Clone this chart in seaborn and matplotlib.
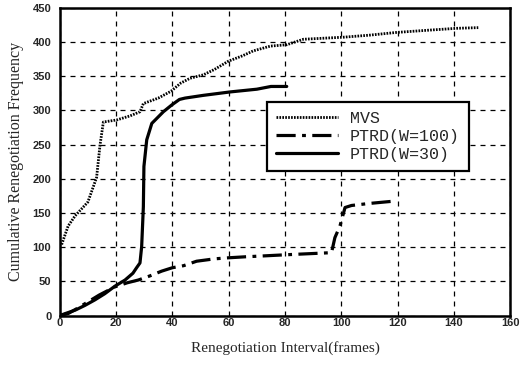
import matplotlib
matplotlib.use("Agg")
import matplotlib.pyplot as plt
import seaborn as sns
import pandas as pd

# ---- data ----
mvs_x = [0.7, 3, 5.5, 10, 13.1, 14.3, 15.5, 20.2, 25, 28.5, 29.7, 35, 39.5, 43, 46.3, 51, 55,
         59.9, 65, 68.7, 74.8, 80.6, 86.5, 95.9, 100.7, 110, 119.6, 130, 140.9, 148.6]
mvs_y = [104, 131, 146, 166, 202, 249, 283, 286, 292, 298, 310, 318, 328, 340, 347, 352, 360,
         372, 380, 387, 394, 396, 404, 406, 407, 410, 414, 417, 420, 421]

w100_x = [0, 3, 6, 10, 14, 19.6, 24, 27.9, 32, 36.2, 40, 44, 48.6, 55, 59.9, 66, 71.1, 80.6,
          91.2, 96.5, 97.7, 99.5, 101.3, 103.6, 110, 117.8]
w100_y = [0, 3, 10, 20, 30, 42, 48, 52, 58, 65, 70, 73, 79.5, 83, 84.5, 86, 87, 89,
          91, 92, 114, 131, 158, 161, 164, 167]

w30_x = [0, 2, 5.5, 9, 12.5, 16, 19.6, 23.2, 26, 27.3, 28.5, 29.1, 29.7, 29.9, 30.9, 32.7,
         36.8, 39.8, 42.5, 44.5, 51, 60.5, 70, 75, 80.6]
w30_y = [0, 3, 8, 15, 23, 32, 43, 52, 62, 70, 77, 101, 159, 218, 257, 281,
         298, 308, 316, 318, 322, 327, 331, 335, 335]

labels = ["MVS", "PTRD(W=100)", "PTRD(W=30)"]
x_ticks = [0, 20, 40, 60, 80, 100, 120, 140, 160]
y_ticks = [0, 50, 100, 150, 200, 250, 300, 350, 400, 450]
x_label = "Renegotiation Interval(frames)"
y_label = "Cumulative Renegotiation Frequency"

sns.set_style("white")
plt.rcParams["font.family"] = ["Liberation Sans", "DejaVu Sans"]

fig = plt.figure(figsize=(5.26, 3.66), dpi=100)
ax = fig.add_axes([0.1135, 0.1377, 0.8568, 0.841])

df_mvs = pd.DataFrame({"x": mvs_x, "y": mvs_y})
df_100 = pd.DataFrame({"x": w100_x, "y": w100_y})
df_30 = pd.DataFrame({"x": w30_x, "y": w30_y})

sns.lineplot(data=df_mvs, x="x", y="y", ax=ax, color="black", linewidth=2.0,
             linestyle=(0, (0.6, 0.45)), sort=False, estimator=None, label=labels[0])
sns.lineplot(data=df_100, x="x", y="y", ax=ax, color="black", linewidth=2.3,
             linestyle=(0, (6, 2, 1.2, 2)), sort=False, estimator=None, label=labels[1])
sns.lineplot(data=df_30, x="x", y="y", ax=ax, color="black", linewidth=2.3,
             linestyle="-", sort=False, estimator=None, label=labels[2])

ax.set_xlim(0, 160)
ax.set_ylim(0, 450)
ax.set_xticks(x_ticks)
ax.set_yticks(y_ticks)
ax.set_xticklabels([str(t) for t in x_ticks], fontsize=8, fontweight="bold")
ax.set_yticklabels([str(t) for t in y_ticks], fontsize=8, fontweight="bold")
ax.tick_params(axis="x", length=0, pad=2)
ax.tick_params(axis="y", length=0, pad=6)

ax.grid(True, color="black", linestyle=(0, (4, 4)), linewidth=0.9)
for s in ax.spines.values():
    s.set_color("black")
    s.set_linewidth(1.8)

ax.set_xlabel(x_label, fontsize=11, family=["Liberation Serif"], labelpad=9)
ax.set_ylabel(y_label, fontsize=11.5, family=["Liberation Serif"], labelpad=6)

leg = ax.legend(loc="upper left", bbox_to_anchor=(0.46, 0.694), frameon=True,
                fancybox=False, framealpha=1, edgecolor="black",
                prop={"family": "Liberation Mono", "size": 12},
                handlelength=3.7, handletextpad=0.7, borderpad=0.55, labelspacing=0.18,
                borderaxespad=0)
leg.get_frame().set_linewidth(1.6)

fig.savefig("out.png", dpi=100)
